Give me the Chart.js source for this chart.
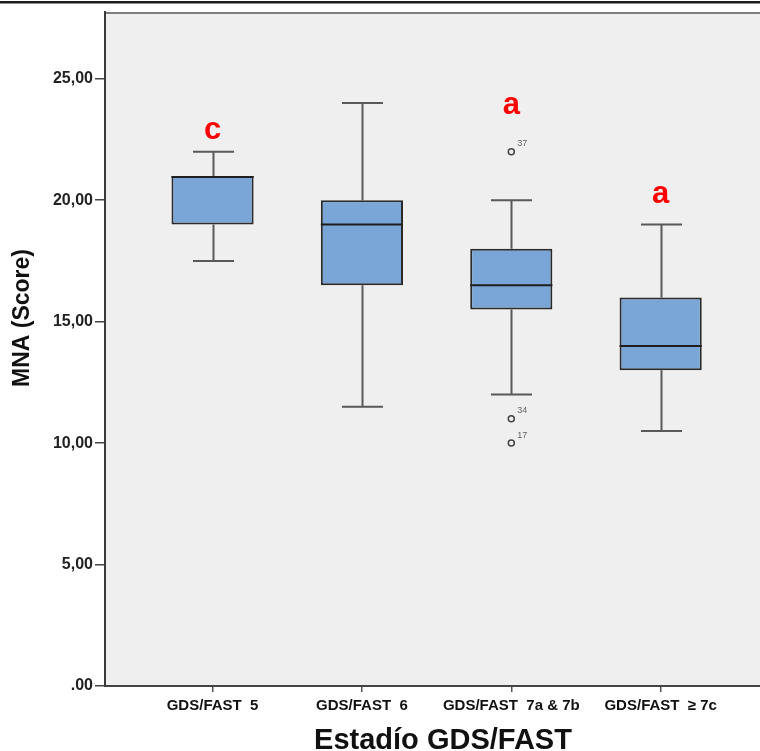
<!DOCTYPE html>
<html>
<head>
<meta charset="utf-8">
<script src="https://cdn.jsdelivr.net/npm/chart.js@4/dist/chart.umd.min.js"></script>
<style>
  html, body { margin: 0; padding: 0; background: #ffffff; }
  #wrap { width: 760px; height: 751px; position: relative; }
</style>
</head>
<body>
<div id="wrap"><canvas id="chart" width="760" height="751"></canvas></div>
<script>
// MNA score by GDS/FAST stage: five-number summaries per group
const categories   = ['GDS/FAST  5', 'GDS/FAST  6', 'GDS/FAST  7a & 7b', 'GDS/FAST  \u2265 7c'];
const whiskerLow   = [17.5, 11.5, 12.0, 10.5];
const quartile1    = [19.0, 16.5, 15.5, 13.0];
const medianValues = [21.0, 19.0, 16.5, 14.0];
const quartile3    = [21.0, 20.0, 18.0, 16.0];
const whiskerHigh  = [22.0, 24.0, 20.0, 19.0];

// outlying cases (group number, score, case id)
const outlierGroup = [3, 3, 3];
const outlierValue = [22, 11, 10];
const outlierCase  = ['37', '34', '17'];

// significance letters above the groups and the score level they sit at
const groupLetters = ['c', '', 'a', 'a'];
const letterLevel  = [22.86, null, 23.9, 20.25];

const yTicks = [0, 5, 10, 15, 20, 25];

const FONT = '"Liberation Sans", Arial, sans-serif';

const boxExtras = {
  id: 'boxExtras',
  beforeDraw(chart) {
    const { ctx, chartArea: a, width } = chart;
    ctx.save();
    // rule along the top of the figure
    ctx.fillStyle = '#1c1c1c';
    ctx.fillRect(0, 1, width, 2);
    ctx.fillStyle = '#8c8c8c';
    ctx.fillRect(0, 3, width, 1);
    // plot background
    ctx.fillStyle = '#efefef';
    ctx.fillRect(a.left, a.top, a.right - a.left, a.bottom - a.top);
    // upper frame edge
    ctx.strokeStyle = '#7d7d7d';
    ctx.lineWidth = 2;
    ctx.beginPath();
    ctx.moveTo(a.left, a.top + 1);
    ctx.lineTo(a.right, a.top + 1);
    ctx.stroke();
    ctx.restore();
  },
  beforeDatasetsDraw(chart) {
    const { ctx } = chart;
    const y = chart.scales.y;
    const bars = chart.getDatasetMeta(0).data;
    ctx.save();
    ctx.strokeStyle = '#595959';
    ctx.lineWidth = 2;
    bars.forEach((bar, i) => {
      const cx = Math.round(bar.x) + 0.5;
      const half = bar.width / 4;
      const yLo = y.getPixelForValue(whiskerLow[i]);
      const yHi = y.getPixelForValue(whiskerHigh[i]);
      const yQ1 = y.getPixelForValue(quartile1[i]);
      const yQ3 = y.getPixelForValue(quartile3[i]);
      ctx.beginPath();
      ctx.moveTo(cx, yQ3); ctx.lineTo(cx, yHi);
      ctx.moveTo(cx, yQ1); ctx.lineTo(cx, yLo);
      ctx.moveTo(cx - half, yHi); ctx.lineTo(cx + half, yHi);
      ctx.moveTo(cx - half, yLo); ctx.lineTo(cx + half, yLo);
      ctx.stroke();
    });
    ctx.restore();
  },
  afterDatasetsDraw(chart) {
    const { ctx } = chart;
    const y = chart.scales.y;
    const bars = chart.getDatasetMeta(0).data;
    ctx.save();
    // medians, kept inside the box outline
    ctx.strokeStyle = '#1e1e1e';
    ctx.lineWidth = 2;
    bars.forEach((bar, i) => {
      const top = y.getPixelForValue(quartile3[i]) + 1;
      const bottom = y.getPixelForValue(quartile1[i]) - 1;
      const ym = Math.min(Math.max(y.getPixelForValue(medianValues[i]), top), bottom);
      ctx.beginPath();
      ctx.moveTo(bar.x - bar.width / 2, ym);
      ctx.lineTo(bar.x + bar.width / 2, ym);
      ctx.stroke();
    });
    // case ids beside the outliers
    ctx.fillStyle = '#666666';
    ctx.font = '9px ' + FONT;
    ctx.textAlign = 'left';
    ctx.textBaseline = 'middle';
    chart.getDatasetMeta(1).data.forEach((pt, i) => {
      ctx.fillText(outlierCase[i], pt.x + 6, pt.y - 8);
    });
    // significance letters
    const size = 31;
    ctx.fillStyle = '#ff0000';
    ctx.font = 'bold ' + size + 'px ' + FONT;
    ctx.textAlign = 'center';
    ctx.textBaseline = 'alphabetic';
    bars.forEach((bar, i) => {
      if (!groupLetters[i]) return;
      const yc = y.getPixelForValue(letterLevel[i]);
      ctx.fillText(groupLetters[i], bar.x, yc + size * 0.27);
    });
    ctx.restore();
  },
  afterDraw(chart) {
    const { ctx } = chart;
    ctx.save();
    ctx.fillStyle = '#111111';
    // vertical axis title
    ctx.font = 'bold 23px ' + FONT;
    ctx.textAlign = 'center';
    ctx.textBaseline = 'middle';
    ctx.translate(23, 318);
    ctx.rotate(-Math.PI / 2);
    ctx.fillText('MNA (Score)', 0, 0);
    ctx.restore();
    ctx.save();
    ctx.fillStyle = '#111111';
    ctx.font = 'bold 29px ' + FONT;
    ctx.textAlign = 'center';
    ctx.textBaseline = 'alphabetic';
    ctx.fillText('Estad\u00edo GDS/FAST', 443, 749);
    ctx.restore();
  }
};

new Chart(document.getElementById('chart'), {
  type: 'bar',
  data: {
    datasets: [
      {
        label: 'IQR',
        data: categories.map((c, i) => ({ x: i + 1, y: [quartile1[i], quartile3[i]] })),
        backgroundColor: '#79a6d6',
        borderColor: '#2b2b2b',
        borderWidth: 2,
        borderSkipped: false,
        barPercentage: 0.55,
        categoryPercentage: 1
      },
      {
        type: 'scatter',
        label: 'Outliers',
        data: outlierGroup.map((g, i) => ({ x: g, y: outlierValue[i] })),
        pointRadius: 3,
        pointBorderWidth: 1.5,
        borderColor: '#444444',
        backgroundColor: '#efefef'
      }
    ]
  },
  options: {
    responsive: false,
    animation: false,
    layout: { autoPadding: false, padding: { top: 12, right: 0, bottom: 0, left: 0 } },
    plugins: { legend: { display: false }, tooltip: { enabled: false } },
    scales: {
      x: {
        type: 'linear',
        offset: false,
        min: 0.28,
        max: 4.665,
        afterBuildTicks: (s) => { s.ticks = categories.map((c, i) => ({ value: i + 1 })); },
        afterFit: (s) => { s.height = 65; s.paddingRight = 0; s.paddingLeft = 0; },
        grid: { offset: false, drawOnChartArea: false, drawTicks: true, tickLength: 6, tickColor: '#555555', tickWidth: 1.5, lineWidth: 1.5 },
        border: { color: '#444444', width: 2 },
        ticks: {
          autoSkip: false,
          maxRotation: 0,
          padding: 5,
          color: '#111111',
          font: { family: FONT, size: 15, weight: 'bold' },
          callback: (v) => categories[v - 1]
        }
      },
      y: {
        min: 0,
        max: 27.75,
        afterBuildTicks: (s) => { s.ticks = yTicks.map(v => ({ value: v })); },
        afterFit: (s) => { s.width = 105; },
        grid: { drawOnChartArea: false, drawTicks: true, tickLength: 10, tickColor: '#444444', tickWidth: 1.5, lineWidth: 1.5 },
        border: { color: '#3a3a3a', width: 2 },
        ticks: {
          padding: 2,
          color: '#222222',
          font: { family: FONT, size: 16, weight: 'bold' },
          callback: (v) => v === 0 ? '.00' : v.toFixed(2).replace('.', ',')
        }
      }
    }
  },
  plugins: [boxExtras]
});
</script>
</body>
</html>
